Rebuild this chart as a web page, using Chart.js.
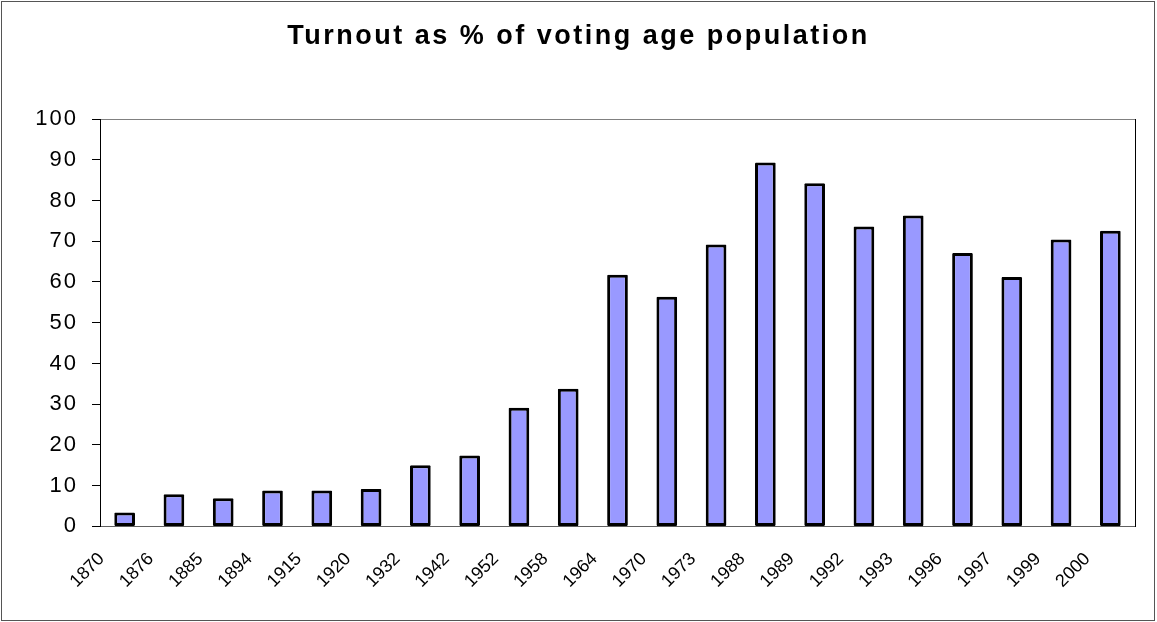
<!DOCTYPE html>
<html>
<head>
<meta charset="utf-8">
<script src="https://cdn.jsdelivr.net/npm/chart.js@4/dist/chart.umd.min.js"></script>
<style>
  html, body { margin: 0; padding: 0; background: #ffffff; }
  #wrap { position: relative; width: 1157px; height: 622px; }
  #frame { position: absolute; left: 1px; top: 1px; width: 1154px; height: 620px;
           box-sizing: border-box; border: 1px solid #555555; pointer-events: none; }
</style>
</head>
<body>
<div id="wrap">
  <canvas id="c"></canvas>
  <div id="frame"></div>
</div>
<script>
const chartTitle = 'Turnout as % of voting age population';
const years = ['1870','1876','1885','1894','1915','1920','1932','1942','1952','1958','1964',
               '1970','1973','1988','1989','1992','1993','1996','1997','1999','2000'];
const turnout = [3.4, 7.9, 6.9, 8.8, 8.8, 9.2, 15.0, 17.4, 29.1, 33.8, 61.8,
                 56.4, 69.2, 89.3, 84.2, 73.6, 76.3, 67.1, 61.2, 70.4, 72.6];
const yMin = 0, yMax = 100, yStep = 10;

const FONT = "'Liberation Sans', Arial, sans-serif";

function withSpacing(obj, method, spacing) {
  if (!obj || obj['_sp_' + method]) return;
  const orig = obj[method];
  obj[method] = function (...args) {
    const ctx = this.ctx;
    ctx.save();
    if ('letterSpacing' in ctx) ctx.letterSpacing = spacing;
    orig.apply(this, args);
    ctx.restore();
  };
  obj['_sp_' + method] = true;
}

const textSpacing = {
  id: 'textSpacing',
  beforeDraw(chart) {
    withSpacing(chart.titleBlock, 'draw', '2.5px');
    withSpacing(chart.scales.y, 'drawLabels', '2px');
  }
};

new Chart(document.getElementById('c'), {
  type: 'bar',
  data: {
    labels: years,
    datasets: [{
      data: turnout,
      backgroundColor: '#9999FF',
      borderColor: '#000000',
      borderWidth: 3,
      borderSkipped: false,
      borderRadius: 1,
      barPercentage: 0.42,
      categoryPercentage: 1.0
    }]
  },
  options: {
    responsive: true,
    maintainAspectRatio: false,
    animation: false,
    devicePixelRatio: 1,
    layout: { padding: { top: 10, left: 22, right: 22, bottom: 8 } },
    plugins: {
      legend: { display: false },
      tooltip: { enabled: false },
      title: {
        display: true,
        text: chartTitle,
        color: '#000000',
        font: { family: FONT, size: 27, weight: 'bold' },
        padding: { top: 10.8, bottom: 65.8 }
      }
    },
    scales: {
      x: {
        type: 'category',
        offset: true,
        grid: { display: false, drawTicks: false, drawOnChartArea: false },
        border: { display: true, color: '#606060', width: 1 },
        ticks: {
          autoSkip: false,
          maxRotation: 45,
          minRotation: 45,
          padding: 22,
          labelOffset: -23,
          color: '#000000',
          font: { family: FONT, size: 18 }
        }
      },
      xTop: {
        type: 'category',
        position: 'top',
        labels: years,
        offset: true,
        grid: { display: false, drawTicks: false },
        border: { display: true, color: '#808080', width: 1 },
        ticks: { display: false }
      },
      y: {
        min: yMin,
        max: yMax,
        grid: { display: true, drawOnChartArea: false, drawTicks: true, tickLength: 8, color: '#000000' },
        border: { display: true, color: '#000000', width: 1 },
        ticks: {
          stepSize: yStep,
          padding: 14,
          color: '#000000',
          font: { family: FONT, size: 22 }
        },
        afterFit(scale) { scale.width = 78; }
      },
      yRight: {
        position: 'right',
        min: yMin,
        max: yMax,
        grid: { display: false, drawTicks: false },
        border: { display: true, color: '#000000', width: 1 },
        ticks: { display: false }
      }
    }
  },
  plugins: [textSpacing]
});
</script>
</body>
</html>
